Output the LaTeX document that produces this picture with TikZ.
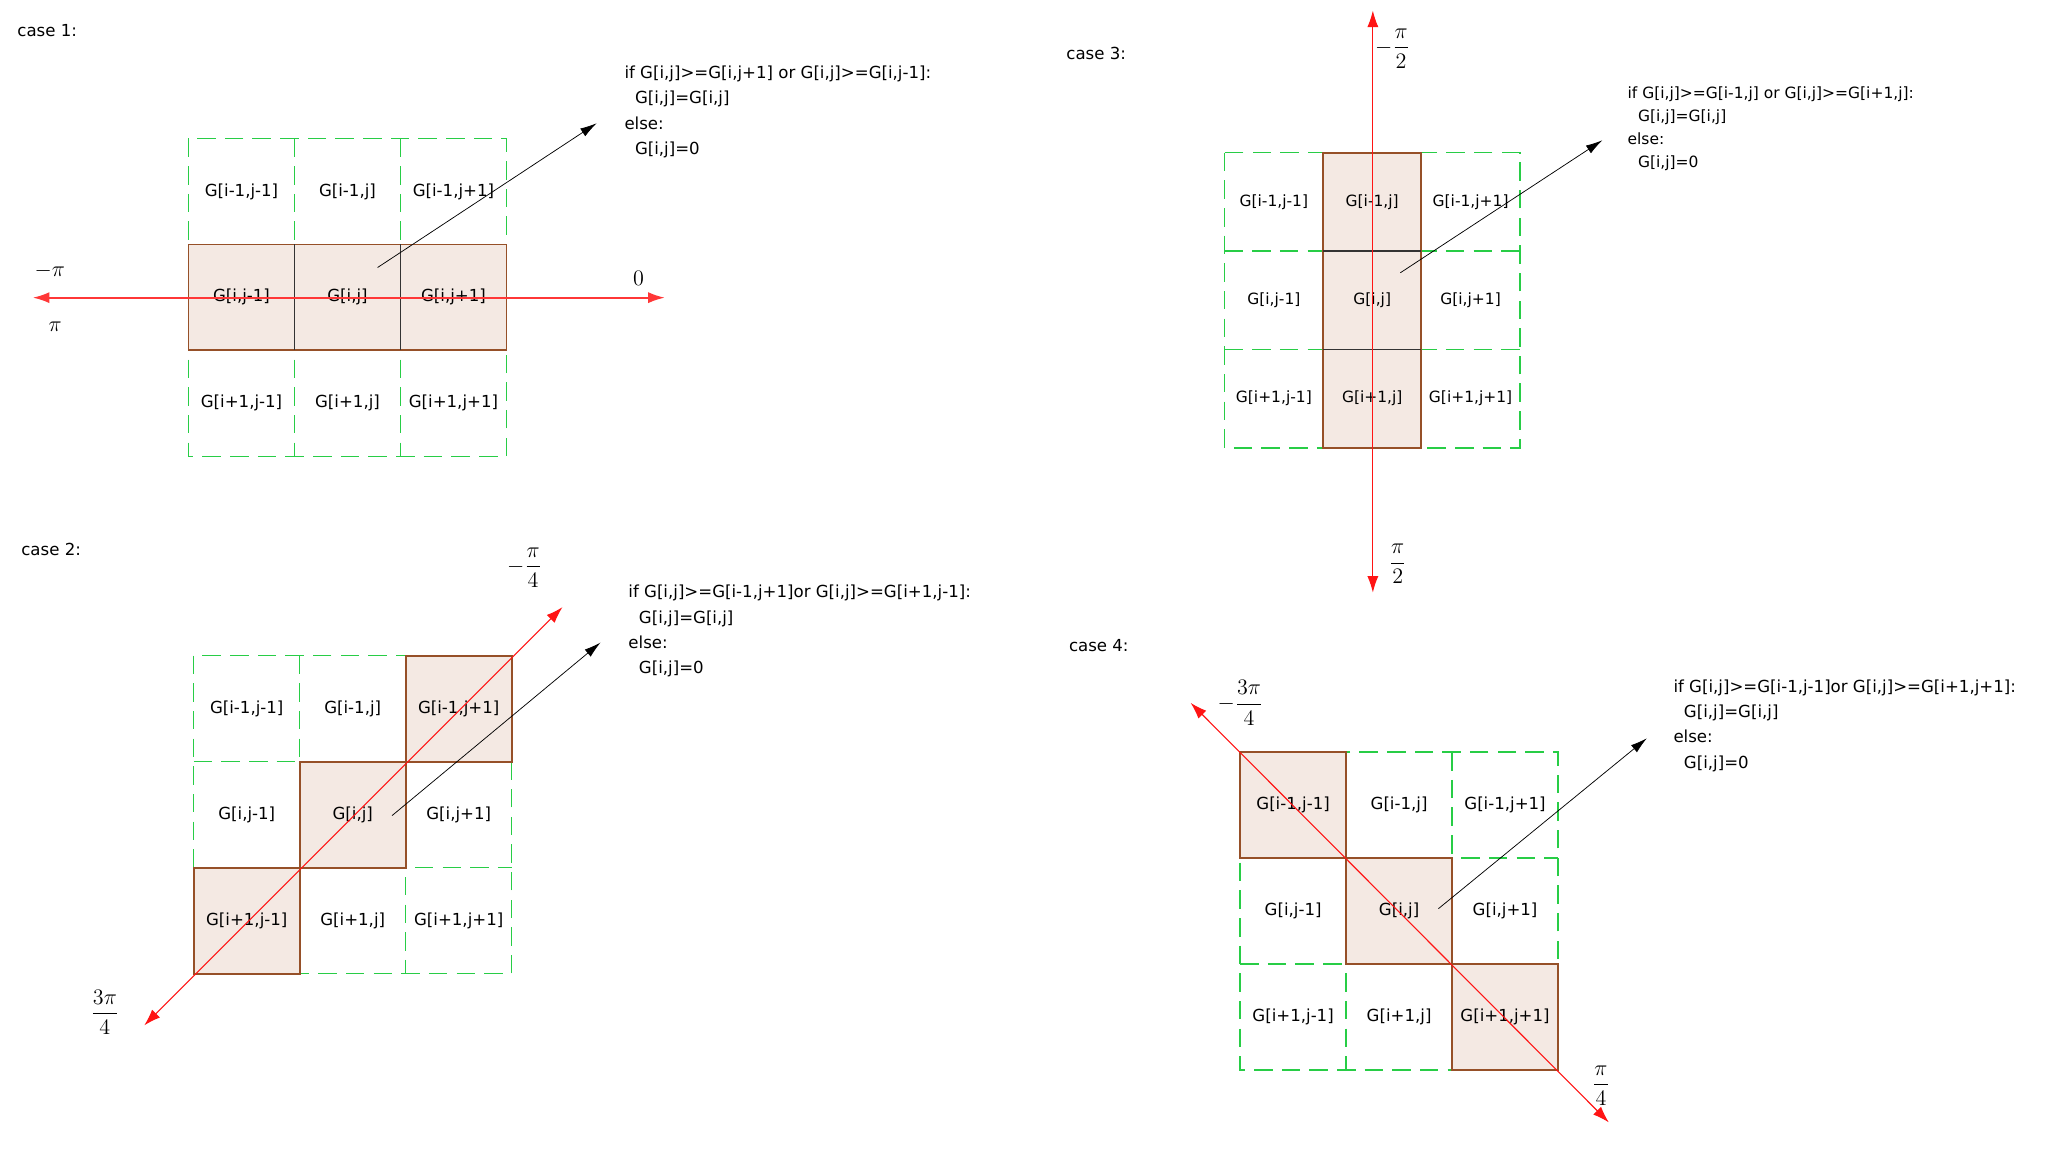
\documentclass[tikz,border=0pt]{standalone}
\usepackage{amsmath}
\usepackage{fontspec}
\newfontfamily\cellfont{DejaVu Sans}
\usepackage{tikz}
\usetikzlibrary{positioning}
\usetikzlibrary{arrows.meta}
\pgfdeclarelayer{background}
\pgfsetlayers{background,main}
\definecolor{gridgreen}{RGB}{40,205,70}
\definecolor{cellbrown}{RGB}{150,80,40}
\definecolor{cellfill}{RGB}{244,233,227}
\definecolor{axisred}{RGB}{255,20,20}
\tikzstyle{novertex} = [draw=none, fill=none, inner sep=0pt, font=\cellfont\fontsize{9}{13.75}\selectfont]
\tikzstyle{caselabel} = [novertex, anchor=west]
\tikzstyle{rule} = [novertex, anchor=north west, align=left]
\tikzstyle{angle} = [draw=none, fill=none, inner sep=0pt, font=\large]
\tikzstyle{cell} = [rectangle, draw=none, outer sep=0pt, minimum width=2.02cm, minimum height=2.02cm, text centered, font=\cellfont\fontsize{9}{11}\selectfont]
\tikzstyle{hcell} = [cell, draw=cellbrown, fill=cellfill, line width=1pt]
\tikzstyle{gridline} = [draw=gridgreen, dash pattern=on 10pt off 5pt, line width=0.8pt]
\tikzstyle{divider} = [draw=black!80, line width=0.9pt]
\tikzstyle{axis} = [draw=axisred, line width=0.6pt, {Latex[length=9pt,width=6pt]}-{Latex[length=9pt,width=6pt]}]
\tikzstyle{pointer} = [draw, thin, -{Latex[length=9pt,width=5pt]}]

\begin{document}
\begin{tikzpicture}[x=0.025cm, y=-0.025cm, node distance=0pt]
	\useasboundingbox (0,0) rectangle (1568,876);

	% case 1
	\node [caselabel] (C1) at (13,23) {case 1:};
	\node [cell] (A12) at (265,146) {G[i-1,j]};
	\node [cell, left=of A12]  (A11) {G[i-1,j-1]};
	\node [cell, right=of A12] (A13) {G[i-1,j+1]};
	\node [hcell, below=of A12] (A22) {G[i,j]};
	\node [hcell, left=of A22]  (A21) {G[i,j-1]};
	\node [hcell, right=of A22] (A23) {G[i,j+1]};
	\node [cell, below=of A22] (A32) {G[i+1,j]};
	\node [cell, left=of A32]  (A31) {G[i+1,j-1]};
	\node [cell, right=of A32] (A33) {G[i+1,j+1]};
	\begin{pgfonlayer}{background}
		\path [gridline] (A11.north west) rectangle (A33.south east);
		\path [gridline] (A11.north east) -- (A31.south east);
		\path [gridline] (A12.north east) -- (A32.south east);
		\path [gridline] (A11.south west) -- (A13.south east);
		\path [gridline] (A21.south west) -- (A23.south east);
	\end{pgfonlayer}
	\path [divider] (A22.north west) -- (A22.south west);
	\path [divider] (A22.north east) -- (A22.south east);

	\coordinate (L1) at (25,227);
	\coordinate (R1) at (507,227);
	\coordinate (P1) at (288,204);
	\coordinate (Q1) at (455,94);
	\path [axis, line width=1pt, draw=axisred!85] (L1) -- (R1);
	\path [pointer] (P1) -- (Q1);
	\node [angle] (a11) at (38,207) {$-\pi$};
	\node [angle] (a12) at (42,249) {$\pi$};
	\node [angle] (a13) at (487,212) {$0$};
	\node [rule] (T1) at (476,50) {if G[i,j]>=G[i,j+1] or G[i,j]>=G[i,j-1]:\\
		\hspace*{2mm}G[i,j]=G[i,j]\\ else:\\ \hspace*{2mm}G[i,j]=0};

	% case 2
	\node [caselabel] (C2) at (16,419) {case 2:};
	\node [cell] (B12) at (269,540.5) {G[i-1,j]};
	\node [cell, left=of B12]  (B11) {G[i-1,j-1]};
	\node [hcell, right=of B12] (B13) {G[i-1,j+1]};
	\node [hcell, below=of B12] (B22) {G[i,j]};
	\node [cell, left=of B22]  (B21) {G[i,j-1]};
	\node [cell, right=of B22] (B23) {G[i,j+1]};
	\node [cell, below=of B22] (B32) {G[i+1,j]};
	\node [hcell, left=of B32]  (B31) {G[i+1,j-1]};
	\node [cell, right=of B32] (B33) {G[i+1,j+1]};
	\begin{pgfonlayer}{background}
		\path [gridline] (B11.north west) rectangle (B33.south east);
		\path [gridline] (B11.north east) -- (B31.south east);
		\path [gridline] (B12.north east) -- (B32.south east);
		\path [gridline] (B11.south west) -- (B13.south east);
		\path [gridline] (B21.south west) -- (B23.south east);
	\end{pgfonlayer}

	\coordinate (L2) at (110,782);
	\coordinate (R2) at (429,463);
	\coordinate (P2) at (299,622);
	\coordinate (Q2) at (458,490);
	\path [axis] (R2) -- (L2);
	\path [pointer] (P2) -- (Q2);
	\node [angle] (a21) at (400,433) {$-\dfrac{\pi}{4}$};
	\node [angle] (a22) at (80,772) {$\dfrac{3\pi}{4}$};
	\node [rule] (T2) at (479,446) {if G[i,j]>=G[i-1,j+1]or G[i,j]>=G[i+1,j-1]:\\
		\hspace*{2mm}G[i,j]=G[i,j]\\ else:\\ \hspace*{2mm}G[i,j]=0};

	% case 3
	\node [caselabel] (C3) at (813,41) {case 3:};
	\begin{scope}[cell/.append style={minimum width=1.875cm, minimum height=1.875cm, font=\cellfont\fontsize{8.4}{10}\selectfont}]
	\node [cell] (D11) at (971.5,154) {G[i-1,j-1]};
	\node [hcell, right=of D11] (D12) {G[i-1,j]};
	\node [cell, right=of D12]  (D13) {G[i-1,j+1]};
	\node [cell, below=of D11]  (D21) {G[i,j-1]};
	\node [hcell, right=of D21] (D22) {G[i,j]};
	\node [cell, right=of D22]  (D23) {G[i,j+1]};
	\node [cell, below=of D21]  (D31) {G[i+1,j-1]};
	\node [hcell, right=of D31] (D32) {G[i+1,j]};
	\node [cell, right=of D32]  (D33) {G[i+1,j+1]};
	\end{scope}
	\begin{pgfonlayer}{background}
		\path [gridline] (D11.north west) rectangle (D33.south east);
		\path [gridline] (D11.north east) -- (D31.south east);
		\path [gridline] (D12.north east) -- (D32.south east);
		\path [gridline] (D11.south west) -- (D13.south east);
		\path [gridline] (D21.south west) -- (D23.south east);
	\end{pgfonlayer}
	\path [divider] (D12.south west) -- (D12.south east);
	\path [divider] (D22.south west) -- (D22.south east);

	\coordinate (L3) at (1047,8);
	\coordinate (R3) at (1047,452);
	\coordinate (P3) at (1068,208);
	\coordinate (Q3) at (1222,107);
	\path [axis] (L3) -- (R3);
	\path [pointer] (P3) -- (Q3);
	\node [angle] (a31) at (1062,37) {$-\dfrac{\pi}{2}$};
	\node [angle] (a32) at (1066,430) {$\dfrac{\pi}{2}$};
	\node [rule, font=\cellfont\fontsize{8.4}{12.5}\selectfont] (T3) at (1241,66) {if G[i,j]>=G[i-1,j] or G[i,j]>=G[i+1,j]:\\
		\hspace*{2mm}G[i,j]=G[i,j]\\ else:\\ \hspace*{2mm}G[i,j]=0};

	% case 4
	\node [caselabel] (C4) at (815,492) {case 4:};
	\node [cell] (E12) at (1067,614) {G[i-1,j]};
	\node [hcell, left=of E12]  (E11) {G[i-1,j-1]};
	\node [cell, right=of E12]  (E13) {G[i-1,j+1]};
	\node [hcell, below=of E12] (E22) {G[i,j]};
	\node [cell, left=of E22]   (E21) {G[i,j-1]};
	\node [cell, right=of E22]  (E23) {G[i,j+1]};
	\node [cell, below=of E22]  (E32) {G[i+1,j]};
	\node [cell, left=of E32]   (E31) {G[i+1,j-1]};
	\node [hcell, right=of E32] (E33) {G[i+1,j+1]};
	\begin{pgfonlayer}{background}
		\path [gridline] (E11.north west) rectangle (E33.south east);
		\path [gridline] (E11.north east) -- (E31.south east);
		\path [gridline] (E12.north east) -- (E32.south east);
		\path [gridline] (E11.south west) -- (E13.south east);
		\path [gridline] (E21.south west) -- (E23.south east);
	\end{pgfonlayer}

	\coordinate (L4) at (908,536);
	\coordinate (R4) at (1227,856);
	\coordinate (P4) at (1097,693);
	\coordinate (Q4) at (1256,563);
	\path [axis] (L4) -- (R4);
	\path [pointer] (P4) -- (Q4);
	\node [angle] (a41) at (946,536) {$-\dfrac{3\pi}{4}$};
	\node [angle] (a42) at (1221,828) {$\dfrac{\pi}{4}$};
	\node [rule] (T4) at (1276,518) {if G[i,j]>=G[i-1,j-1]or G[i,j]>=G[i+1,j+1]:\\
		\hspace*{2mm}G[i,j]=G[i,j]\\ else:\\ \hspace*{2mm}G[i,j]=0};
\end{tikzpicture}
\end{document}
